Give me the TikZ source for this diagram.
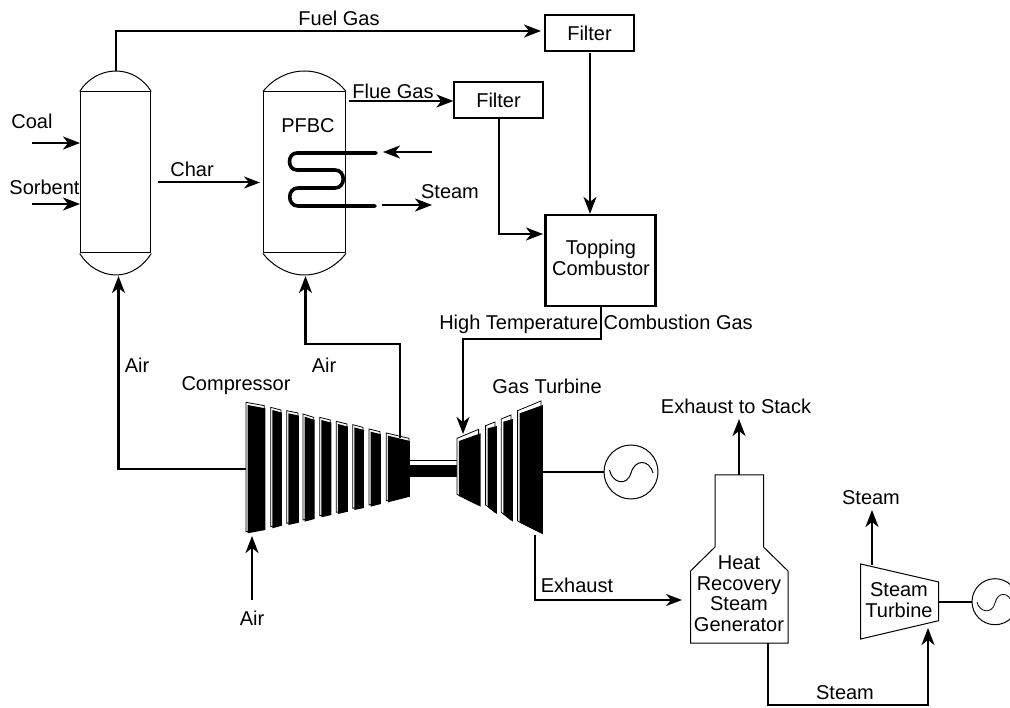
\documentclass[tikz,border=0pt]{standalone}
\usepackage{fontspec}
\setmainfont{Liberation Sans}
\usetikzlibrary{arrows.meta}
\tikzset{
  lbl/.style={inner sep=0pt,font=\fontsize{20}{20.5}\selectfont,align=center},
  pipe/.style={line width=2.2pt,-{Stealth[length=17pt,width=13pt,inset=5pt]}},
  plainpipe/.style={line width=2.2pt},
  hollowpipe/.style={line width=2pt,-{Stealth[length=16pt,width=12pt,inset=5pt]}},
  vessel/.style={line width=1pt,draw=black},
  filterbox/.style={draw,line width=1.2pt,inner sep=0pt,minimum width=89pt,minimum height=36pt,font=\fontsize{20}{20.5}\selectfont},
  combbox/.style={draw,line width=2.2pt,inner sep=0pt,minimum width=110pt,minimum height=91pt},
  gen/.style={draw,circle,line width=1pt,inner sep=0pt},
  thincurve/.style={line width=1pt},
  coil/.style={line width=3.6pt,line cap=round}
}
\newcommand{\blade}[6]{%
  \draw[line width=0.8pt,fill=white] (#1-5,#3-8)--(#2-3,#4-8)--(#2-3,#6-5)--(#1-5,#5-5)--cycle;
  \fill[black] (#1,#3)--(#2,#4)--(#2,#6)--(#1,#5)--cycle;}
\newcommand{\tblade}[6]{%
  \draw[line width=0.8pt,fill=white] (#1-6,#3-8)--(#2-6,#4-12)--(#2-6,#6-5)--(#1-6,#5-5)--cycle;
  \fill[black] (#1,#3)--(#2,#4)--(#2,#6)--(#1,#5)--cycle;}
\begin{document}
\begin{tikzpicture}[x=1pt,y=-1pt]
\useasboundingbox (0,0) rectangle (1010,708);
\begin{scope}
\clip (0,0) rectangle (1010,708);
% vessels
\node[vessel,draw,rectangle,inner sep=0pt,minimum width=70.5pt,minimum height=161pt] (gasifier) at (115.5,172.5) {};
\node[vessel,draw,rectangle,inner sep=0pt,minimum width=82pt,minimum height=161pt] (pfbc) at (304.5,172.5) {};
\coordinate (gtop) at (116,71);
\coordinate (gbot) at (116,275);
\coordinate (ptop) at (304.5,71);
\coordinate (pbot) at (304.5,275);
\draw[thincurve] (gasifier.north west) .. controls (87.2,79.1) and (101.2,71) .. (gtop) .. controls (130.8,71) and (143.6,79.1) .. (gasifier.north east);
\draw[thincurve] (gasifier.south west) .. controls (87.2,265.9) and (101.2,275) .. (gbot) .. controls (130.8,275) and (143.6,265.9) .. (gasifier.south east);
\draw[thincurve] (pfbc.north west) .. controls (273,78.8) and (288.2,71) .. (ptop) .. controls (320.8,71) and (336,78.8) .. (pfbc.north east);
\draw[thincurve] (pfbc.south west) .. controls (273,266.2) and (288.2,275) .. (pbot) .. controls (320.8,275) and (336,266.2) .. (pfbc.south east);
% coil
\coordinate (coilin) at (376,153);
\coordinate (coilout) at (375,206);
\draw[coil] (coilin) -- (297,153) .. controls (287,153) and (287,170) .. (297,170) -- (335,170) .. controls (346,170) and (346,188) .. (335,188) -- (298,188) .. controls (287,188) and (287,206) .. (298,206) -- (coilout);
% boxes
\node[filterbox] (f1) at (589.5,33) {Filter};
\node[filterbox] (f2) at (498.5,100) {Filter};
\node[combbox] (comb) at (600.5,260.5) {};
\node[lbl] (combtext) at (601,258) {Topping\\Combustor};
% HRSG
\coordinate (h1) at (715,475);\coordinate (h2) at (763.5,475);\coordinate (h3) at (763.5,547);
\coordinate (h4) at (788,571);\coordinate (h5) at (788,643);\coordinate (h6) at (690.5,643);
\coordinate (h7) at (690.5,571);\coordinate (h8) at (715,547);
\draw[thincurve] (h1)--(h2)--(h3)--(h4)--(h5)--(h6)--(h7)--(h8)--cycle;
\node[lbl] (hrsg) at (739,593.5) {Heat\\Recovery\\Steam\\Generator};
% steam turbine
\coordinate (s1) at (860.7,564);\coordinate (s2) at (938.7,582);\coordinate (s3) at (938.7,620.7);\coordinate (s4) at (860.7,639);
\draw[thincurve] (s1)--(s2)--(s3)--(s4)--cycle;
\node[lbl] (st) at (899,600) {Steam\\Turbine};
% generators
\node[gen,minimum size=54pt] (g1) at (631,472) {};
\node[gen,minimum size=46pt] (g2) at (995,601.7) {};
\draw[thincurve] (609.5,470) .. controls (612,483) and (627,487) .. (631,473) .. controls (635,459) and (649,459) .. (653,473);
\draw[line width=0.8pt] (977,602) .. controls (979,612) and (992,615) .. (995,603) .. controls (998,591) and (1009,592) .. (1012,603);
% turbomachine
\begin{scope}[shift={(220,370)},x=0.3333pt,y=-0.3333pt]
\blade{83}{136}{105}{115}{490}{480}
\blade{157}{186}{120}{128}{475}{467}
\blade{205}{237}{130}{137}{465}{458}
\blade{254}{284}{140}{150}{455}{447}
\blade{304}{334}{150}{158}{442}{435}
\blade{354}{384}{162}{170}{432}{425}
\blade{403}{432}{172}{180}{420}{414}
\blade{452}{483}{185}{193}{410}{402}
\blade{504}{570}{197}{213}{397}{380}
\draw[line width=0.8pt] (570,272) -- (710,272);
\fill[black] (565,285) rectangle (722,320);
\tblade{717}{782}{213}{190}{378}{410}
\tblade{803}{831}{175}{168}{410}{432}
\tblade{850}{879}{155}{147}{432}{455}
\tblade{899}{969}{130}{105}{458}{493}
\end{scope}
% connector ends
\coordinate (cL) at (246,468.7);
\coordinate (c9) at (400,438);
\coordinate (t1) at (463,434);
\coordinate (tR) at (543,472);
\coordinate (tB) at (535,535);
\coordinate (airS) at (252,600);
\coordinate (airT) at (252,536);
% connectors
\draw[pipe] (gtop) -- (116,31) -- (541,31);
\coordinate (a1) at (32,143);\coordinate (a2) at (32,204);
\draw[pipe] (a1) -- (80,143);
\draw[pipe] (a2) -- (80,204);
\coordinate (ch) at (158,182.5);
\draw[hollowpipe] (ch) -- (260,182.5);
\coordinate (fl) at (349,101);
\draw[pipe] (fl) -- (f2.west |- fl);
\draw[pipe] (590,53) -- (comb.north -| 590,0);
\draw[pipe] (f2.south -| 499,0) -- (499,234) -- (543,234);
\coordinate (ci) at (432,152);\coordinate (cii) at (383,152);
\draw[pipe] (ci) -- (cii);
\coordinate (co) at (382,205);\coordinate (coo) at (432,205);
\draw[pipe] (co) -- (coo);
\draw[pipe] (comb.south -| 601,0) -- (601,339) -- (463,339) -- (t1);
\draw[pipe] (cL) -- (118.5,468.7) -- (118.5,276);
\draw[pipe] (c9) -- (400,344) -- (305.5,344) -- (305.5,276);
\draw[pipe] (airS) -- (airT);
\draw[plainpipe] (tR) -- (g1.west);
\draw[hollowpipe] (tB) -- (535,600) -- (682,600);
\draw[pipe] (h1 -| 739,0) -- (739,419);
\draw[pipe] (872,565) -- (872,510);
\draw[plainpipe] (s2 |- g2) -- (g2.west);
\draw[pipe] (h5 -| 767.7,0) -- (767.7,705) -- (928,705) -- (928,628);
\end{scope}
% labels
\node[lbl] (l1) at (339,18) {Fuel Gas};
\node[lbl] (l2) at (32,121) {Coal};
\node[lbl] (l3) at (44.5,187) {Sorbent};
\node[lbl] (l4) at (192,169) {Char};
\node[lbl] (l5) at (393,91) {Flue Gas};
\node[lbl] (l6) at (308,126) {PFBC};
\node[lbl] (l7) at (450,192) {Steam};
\node[lbl] (l8) at (596,324) {High Temperature Combustion Gas};
\node[lbl] (l9) at (137,365) {Air};
\node[lbl] (l10) at (324,365) {Air};
\node[lbl] (l11) at (236,386) {Compressor};
\node[lbl] (l12) at (547,386) {Gas Turbine};
\node[lbl] (l13) at (736,406) {Exhaust to Stack};
\node[lbl] (l14) at (577,585) {Exhaust};
\node[lbl] (l15) at (252,618) {Air};
\node[lbl] (l16) at (871,498) {Steam};
\node[lbl] (l17) at (845,693) {Steam};
\end{tikzpicture}
\end{document}
